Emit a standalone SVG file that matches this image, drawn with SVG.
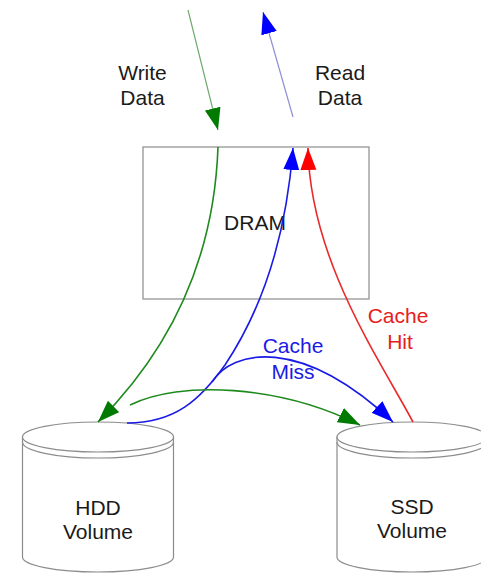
<svg xmlns="http://www.w3.org/2000/svg" width="481" height="573" viewBox="0 0 481 573">
<defs>
<style>
text{font-family:"Liberation Sans",Arial,sans-serif;font-size:21px;text-anchor:middle;fill:#1a1a1a}
.box{fill:#fff;stroke:#8c8c8c;stroke-width:1.2}
.cyl{fill:#fff;stroke:#8c8c8c;stroke-width:1.2}
.cl{fill:none;stroke:#8c8c8c;stroke-width:1.2}
.g{fill:none;stroke:#1e8a1e;stroke-width:1.6}
.b{fill:none;stroke:#1a1ae6;stroke-width:1.6}
.r{fill:none;stroke:#ea2a2a;stroke-width:1.6}
.gl{fill:none;stroke:#6fa86f;stroke-width:1.2}
.bl{fill:none;stroke:#8f8fd6;stroke-width:1.2}
</style>
<marker id="ag" markerUnits="userSpaceOnUse" markerWidth="23" markerHeight="17" refX="22" refY="8" orient="auto"><path d="M0,0 L22,8 L0,16 z" fill="#007a00"/></marker>
<marker id="ab" markerUnits="userSpaceOnUse" markerWidth="23" markerHeight="17" refX="22" refY="8" orient="auto"><path d="M0,0 L22,8 L0,16 z" fill="#0000ff"/></marker>
<marker id="ar" markerUnits="userSpaceOnUse" markerWidth="23" markerHeight="17" refX="22" refY="8" orient="auto"><path d="M0,0 L22,8 L0,16 z" fill="#ff0000"/></marker>
</defs>

<g id="dram">
<rect class="box" x="143" y="147" width="226" height="152"/>
<text x="255" y="230">DRAM</text>
</g>

<g id="hdd">
<path class="cyl" d="M22.5,437 L22.5,557 A75.5,15 0 0 0 173.5,557 L173.5,437 z"/>
<ellipse class="cyl" cx="98" cy="437" rx="75.5" ry="15"/>
<path class="cl" d="M22.5,442 A75.5,16 0 0 0 173.5,442"/>
<text x="98" y="515">HDD</text>
<text x="98" y="539">Volume</text>
</g>

<g id="ssd">
<path class="cyl" d="M337,437 L337,557 A75,15 0 0 0 487,557 L487,437 z"/>
<ellipse class="cyl" cx="412" cy="437" rx="75" ry="15"/>
<path class="cl" d="M337,442 A75,16 0 0 0 487,442"/>
<text x="412" y="514">SSD</text>
<text x="412" y="538">Volume</text>
</g>

<g id="labels">
<text x="142.5" y="80">Write</text>
<text x="142.5" y="105">Data</text>
<text x="340" y="80">Read</text>
<text x="340" y="105">Data</text>
<text x="293" y="353" style="fill:#1a1ae6">Cache</text>
<text x="293" y="379" style="fill:#1a1ae6">Miss</text>
<text x="398" y="323" style="fill:#e62020">Cache</text>
<text x="400" y="349" style="fill:#e62020">Hit</text>
</g>

<g id="connectors">
<path class="gl" d="M188,10 L218,130" marker-end="url(#ag)"/>
<path class="bl" d="M293,117 L263,12" marker-end="url(#ab)"/>
<path class="g" d="M218,147 C214,260 170,350 98,422" marker-end="url(#ag)"/>
<path class="b" d="M127,423 C175,423 200,400 225,365 C255,320 285,250 293,148" marker-end="url(#ab)"/>
<path class="r" d="M413,422 C380,360 310,260 308,148" marker-end="url(#ar)"/>
<path class="b" d="M212,382 C232,350 300,335 393,422" marker-end="url(#ab)"/>
<path class="g" d="M130,405 C180,380 280,385 360,425" marker-end="url(#ag)"/>
</g>
</svg>
